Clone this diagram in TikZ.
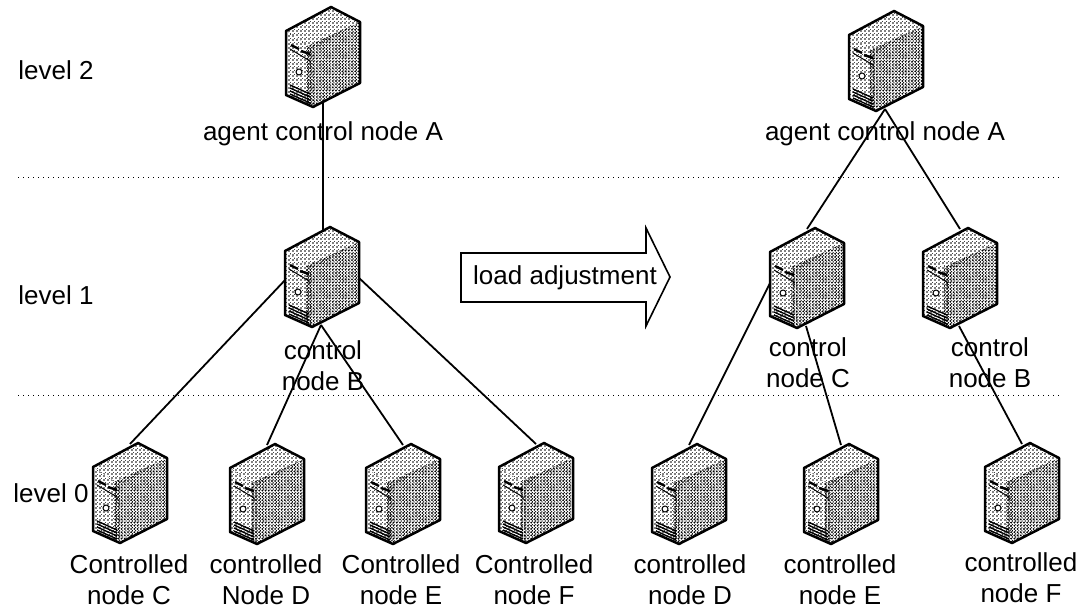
\documentclass[tikz,border=0pt]{standalone}
\usepackage{fontspec}
\setmainfont{Liberation Sans}
\usepackage{tikz}
\usetikzlibrary{patterns}
\pgfdeclarelayer{background}
\pgfsetlayers{background,main}
\pgfdeclarepatternformonly{srvlight}{\pgfqpoint{-1.1pt}{-1.1pt}}{\pgfqpoint{1.1pt}{1.1pt}}{\pgfqpoint{2.2pt}{2.2pt}}{
  \pgfpathcircle{\pgfqpoint{0pt}{0pt}}{.5pt}
  \pgfpathcircle{\pgfqpoint{1.1pt}{1.1pt}}{.5pt}
  \pgfusepath{fill}
}
\pgfdeclarepatternformonly{srvdark}{\pgfqpoint{-.8pt}{-.8pt}}{\pgfqpoint{.8pt}{.8pt}}{\pgfqpoint{1.6pt}{1.6pt}}{
  \pgfpathcircle{\pgfqpoint{0pt}{0pt}}{.52pt}
  \pgfpathcircle{\pgfqpoint{.8pt}{.8pt}}{.52pt}
  \pgfusepath{fill}
}
\tikzset{
  caption/.style={inner sep=0pt,align=center,font=\fontsize{13}{15.5}\selectfont},
  levellabel/.style={caption,anchor=west},
  linkline/.style={line width=.9pt},
  levelline/.style={line width=.5pt,dash pattern=on .5pt off 2pt},
  server/.pic={
    \fill[white] (0,0) -- (-45,24) -- (-45,88) -- (-18,100) -- (29,76) -- (29,15) -- cycle;
    \fill[pattern=srvlight] (0,0) -- (-45,24) -- (-18,42) -- (29,15) -- cycle;
    \fill[pattern=srvlight] (-45,24) -- (-18,42) -- (-18,100) -- (-45,88) -- cycle;
    \fill[pattern=srvdark] (-24,39) -- (29,15) -- (29,76) -- (-18,100) -- (-24,97) -- cycle;
    \draw[line width=1.25pt,line join=round] (0,0) -- (-45,24) -- (-45,88) -- (-18,100) -- (29,76) -- (29,15) -- cycle;
    \draw[line width=1.2pt] (-40,38) -- (-32,42);
    \draw[line width=1.2pt] (-30,44) -- (-21,47);
    \draw[line width=.5pt] (-41,42) -- (-21,54) -- (-21,57);
    \draw[line width=.5pt,fill=white] (-32,65) circle (3);
    \draw[line width=.7pt] (-41,78) -- (-21,87);
    \draw[line width=.7pt] (-41,81) -- (-21,90);
    \draw[line width=.7pt] (-41,84) -- (-21,93);
    \draw[line width=.7pt] (-41,87) -- (-21,96);
    \coordinate (-in) at (-8,1);
    \coordinate (-out) at (-9,98);
    \coordinate (-west) at (-43,51);
    \coordinate (-east) at (28,50);
  }
}

\begin{document}
\begin{tikzpicture}[x=.5pt,y=-.5pt]
  \useasboundingbox (0,0) rectangle (1082,609);
  \draw[levelline] (18,178) to (1060,178);
  \draw[levelline] (18,395) to (1060,395);
  \pic (al) at (331,7) {server};
  \pic (bl) at (330,227) {server};
  \pic (cl) at (138,443) {server};
  \pic (dl) at (275,444) {server};
  \pic (el) at (411,444) {server};
  \pic (fl) at (544,443) {server};
  \pic (ar) at (894,11) {server};
  \pic (cr) at (815,228) {server};
  \pic (br) at (968,228) {server};
  \pic (dr) at (697,444) {server};
  \pic (er) at (849,444) {server};
  \pic (fr) at (1030,443) {server};
  \node[levellabel] (ltwo) at (18,70) {level 2};
  \node[levellabel] (lone) at (18,295) {level 1};
  \node[levellabel] (lzero) at (13,493) {level 0};
  \node[caption] (alabel) at (323,134) {agent control node A};
  \node[caption] (blabel) at (323,366) {control\\node B};
  \node[caption] (clabel) at (129,580) {Controlled\\node C};
  \node[caption] (dlabel) at (266,580) {controlled\\Node D};
  \node[caption] (elabel) at (401,580) {Controlled\\node E};
  \node[caption] (flabel) at (534,580) {Controlled\\node F};
  \node[caption] (arlabel) at (885,134) {agent control node A};
  \node[caption] (crlabel) at (808,363) {control\\node C};
  \node[caption] (brlabel) at (990,363) {control\\node B};
  \node[caption] (drlabel) at (690,580) {controlled\\node D};
  \node[caption] (erlabel) at (840,580) {controlled\\node E};
  \node[caption] (frlabel) at (1021,578) {controlled\\node F};
  \draw[line width=.8pt,line join=miter] (461,253) -- (646,253) -- (646,228) -- (670,277) -- (646,326) -- (646,302) -- (461,302) -- cycle;
  \node[caption] (adjust) at (565,278) {load adjustment};
  \coordinate (alfoot) at (323,100);
  \coordinate (blhead) at (323,231);
  \begin{pgfonlayer}{background}
    \draw[linkline] (alfoot) to (blhead);
    \draw[linkline] (bl-west) to (cl-in);
    \draw[linkline] (bl-out) to (dl-in);
    \draw[linkline] (bl-out) to (el-in);
    \draw[linkline] (bl-east) to (fl-in);
    \draw[linkline] (ar-out) to (cr-in);
    \draw[linkline] (ar-out) to (br-in);
    \draw[linkline] (cr-west) to (dr-in);
    \draw[linkline] (cr-out) to (er-in);
    \draw[linkline] (br-out) to (fr-in);
  \end{pgfonlayer}
\end{tikzpicture}
\end{document}
